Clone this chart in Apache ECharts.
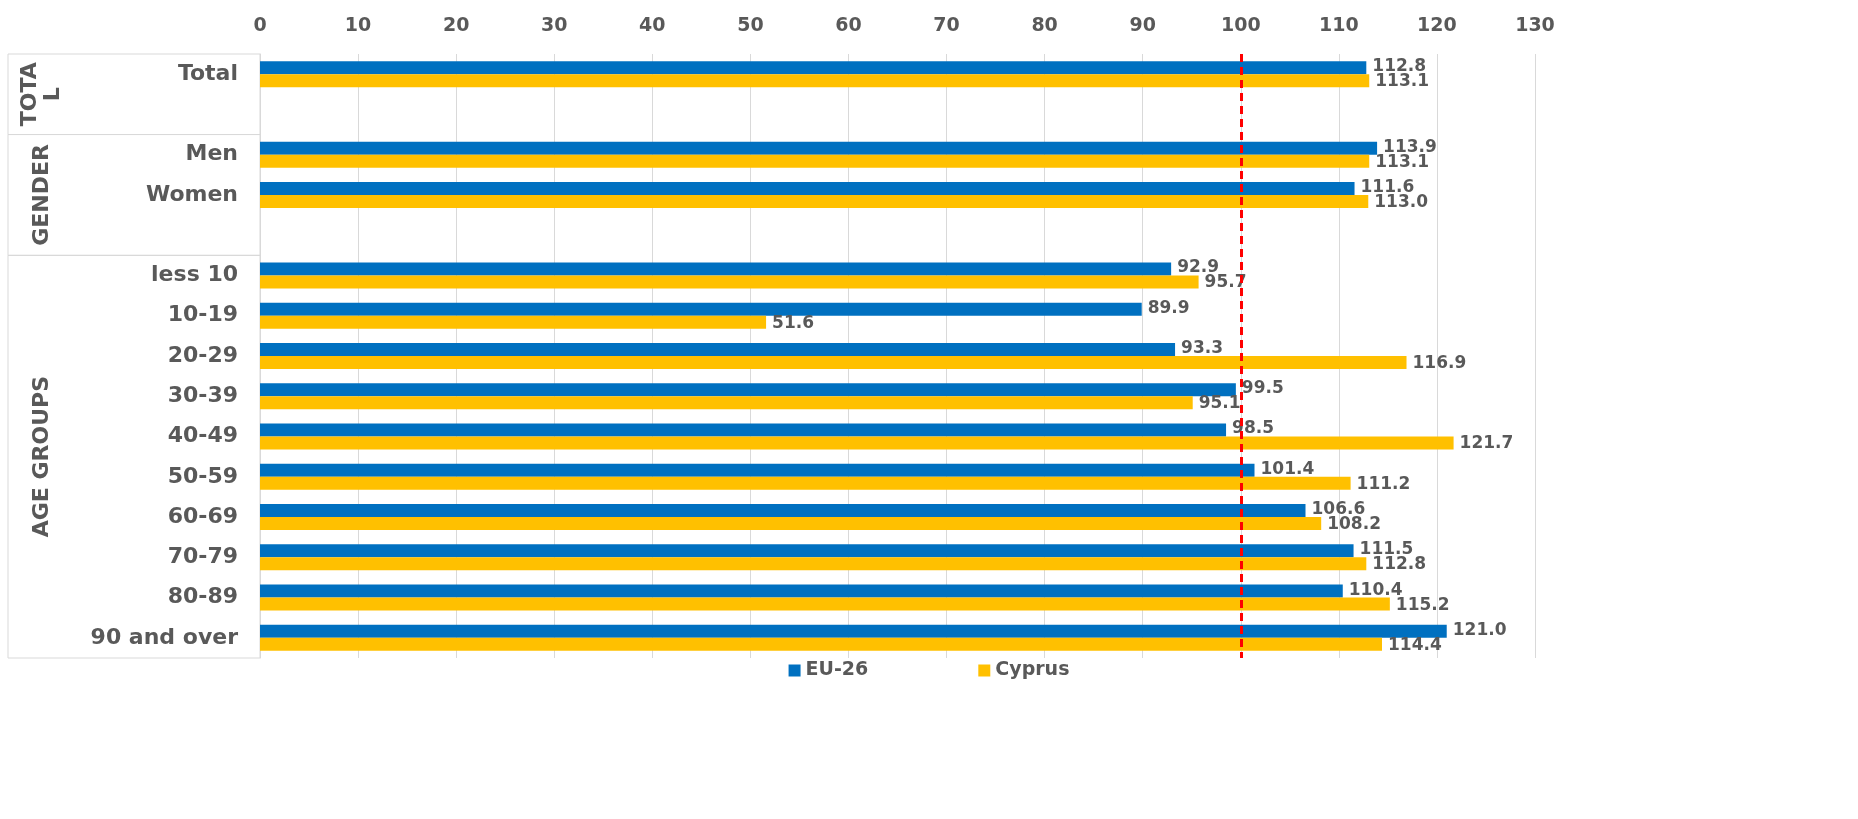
<!DOCTYPE html><html><head><meta charset="utf-8">
<script src="https://cdn.jsdelivr.net/npm/echarts@6/dist/echarts.min.js"></script>
<style>html,body{margin:0;padding:0;background:#fff}#c{width:1858px;height:819px}</style></head><body><div id="c"></div>
<script>
const categories=['Total',' ','Men','Women','  ','less 10','10-19','20-29','30-39','40-49','50-59','60-69','70-79','80-89','90 and over'];
const eu26=[112.8,null,113.9,111.6,null,92.9,89.9,93.3,99.5,98.5,101.4,106.6,111.5,110.4,121.0];
const cyprus=[113.1,null,113.1,113.0,null,95.7,51.6,116.9,95.1,121.7,111.2,108.2,112.8,115.2,114.4];
const groups=[{name:'TOTA\nL',from:0,to:1},{name:'GENDER',from:2,to:4},{name:'AGE GROUPS',from:5,to:14}];
const chart=echarts.init(document.getElementById('c'));
const F='DejaVu Sans';
const lbl={show:true,position:'right',distance:6,color:'#595959',fontWeight:'bold',fontSize:17,fontFamily:F,formatter:p=>p.value==null?'':p.value.toFixed(1)};
chart.setOption({
 animation:false,
 grid:{left:260,right:323,top:54,bottom:161},
 xAxis:{type:'value',position:'top',min:0,max:130,interval:10,axisLine:{show:false},axisTick:{show:false},
  axisLabel:{color:'#595959',fontWeight:'bold',fontSize:19,fontFamily:F,margin:18},splitLine:{lineStyle:{color:'#d9d9d9'}}},
 yAxis:{type:'category',inverse:true,data:categories,axisTick:{show:false},axisLine:{lineStyle:{color:'#d9d9d9'}},
  axisLabel:{color:'#595959',fontWeight:'bold',fontSize:22,fontFamily:F,margin:22}},
 legend:{bottom:134,left:'center',itemGap:110,icon:'rect',itemWidth:12,itemHeight:12,
  textStyle:{color:'#595959',fontWeight:'bold',fontSize:19,fontFamily:F}},
 series:[
  {name:'EU-26',type:'bar',data:eu26,barWidth:13,barGap:'0%',itemStyle:{color:'#0070C0'},label:Object.assign({},lbl,{offset:[0,-1]}),
   markLine:{symbol:'none',silent:true,label:{show:false},lineStyle:{color:'#FF0000',type:[8,5],width:3},data:[{xAxis:100}]}},
  {name:'Cyprus',type:'bar',data:cyprus,barWidth:13,itemStyle:{color:'#FFC000'},label:Object.assign({},lbl,{offset:[0,1]})}
 ]
});
function draw(){
 const g=[];const x0=8,x1=260;
 const top=chart.convertToPixel({yAxisIndex:0},categories[0]);
 const step=chart.convertToPixel({yAxisIndex:0},categories[1])-top;
 const yTop=top-step/2;
 groups.forEach(gr=>{
  const a=yTop+gr.from*step,b=yTop+(gr.to+1)*step;
  g.push({type:'rect',shape:{x:x0,y:a,width:x1-x0,height:b-a},style:{fill:'none',stroke:'#d9d9d9',lineWidth:1}});
  g.push({type:'text',x:42,y:(a+b)/2,rotation:Math.PI/2,style:{text:gr.name,fill:'#595959',font:'bold 22px "DejaVu Sans"',align:'center',verticalAlign:'middle',lineHeight:23}});
 });
 chart.setOption({graphic:g});
}
draw();
</script></body></html>
